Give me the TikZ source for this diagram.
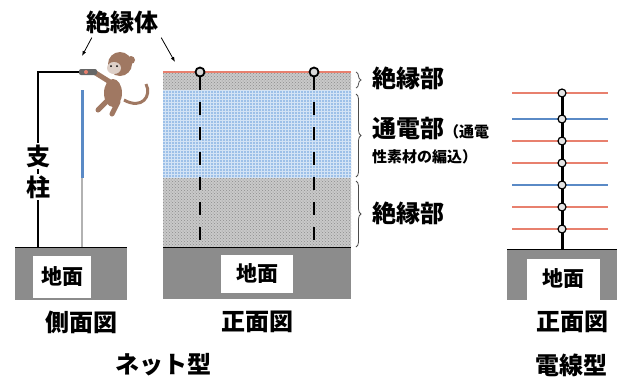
\documentclass[tikz,border=0pt]{standalone}
\usepackage{fontspec}
\setmainfont{Noto Sans CJK JP}
\usetikzlibrary{patterns,decorations.pathreplacing,arrows.meta}
\definecolor{wirered}{HTML}{E8806E}
\definecolor{wireblue}{HTML}{5A8AC6}
\definecolor{netblue}{HTML}{9DC0E8}
\definecolor{netgray}{HTML}{C9C9C9}
\definecolor{earth}{HTML}{8C8C8C}
\definecolor{monkey}{HTML}{A07862}
\tikzset{
  ground/.style={fill=earth,draw=none},
  groundlbl/.style={fill=white,inner sep=0pt,font=\fontsize{21}{21}\selectfont\bfseries},
  lbl/.style={inner sep=0pt,font=\fontsize{24}{24}\selectfont\bfseries},
  small/.style={inner sep=0pt,font=\fontsize{15}{15}\selectfont\bfseries},
  insul/.style={circle,draw,line width=1.8pt,fill=black!15,inner sep=0pt,minimum size=9pt},
  wirepin/.style={circle,draw,line width=1.2pt,fill=black!10,inner sep=0pt,minimum size=8pt},
  post/.style={line width=2.8pt,dash pattern=on 13pt off 12pt},
  brc/.style={decorate,decoration={brace,amplitude=5pt},thick,black!70},
  arr/.style={thick,-{Latex[length=5pt]}}
}
\begin{document}
\begin{tikzpicture}[x=1pt,y=-1pt]
\useasboundingbox (0,0) rectangle (626,378);

% side view
\fill[ground] (15,247) rectangle (127,300);
\draw[thick] (15,247) -- (127,247);
\node[groundlbl,minimum width=58pt,minimum height=42pt] (gl) at (62,277) {地面};
\draw[line width=2pt] (38,247) -- (38,72) -- (80,72);
\node[lbl,fill=white,inner sep=2pt] (shi) at (39,156) {支};
\node[lbl,fill=white,inner sep=2pt] (chu) at (39,187) {柱};
\draw[gray!60,line width=1.2pt] (82,90) -- (82,247);
\draw[wireblue,line width=3pt] (82,90) -- (82,178);
\draw[monkey,line width=3pt] (124,100) .. controls (142,110) and (152,96) .. (146,84);
\fill[monkey] (113,93) ellipse[x radius=9pt,y radius=14pt];
\draw[monkey,line width=5pt,line cap=round] (110,82) -- (94,72);
\draw[monkey,line width=5pt,line cap=round] (108,100) -- (98,110);
\draw[monkey,line width=5pt,line cap=round] (118,102) -- (112,114);
\fill[black!60,rounded corners=2pt] (79,69) rectangle (97,75);
\fill[wirered] (86,72) circle[radius=2pt];
\fill[monkey] (120,64) circle[radius=12pt];
\fill[monkey!35!white] (114,68) ellipse[x radius=7pt,y radius=6pt];
\fill[monkey] (131,60) circle[radius=4pt];
\fill[black] (111,66) circle[radius=1pt];
\fill[black] (117,66) circle[radius=1pt];
\node[lbl] (side) at (81,322) {側面図};

% net, front view
\fill[netgray] (163,72) rectangle (351,247);
\fill[pattern=crosshatch dots,pattern color=black!45] (163,72) rectangle (351,247);
\fill[netblue] (163,90) rectangle (351,177);
\fill[pattern=grid,pattern color=white!55!netblue] (163,90) rectangle (351,177);
\draw[wirered,line width=1.5pt] (163,72) -- (351,72);
\fill[ground] (163,247) rectangle (351,299);
\draw[thick] (163,247) -- (351,247);
\node[groundlbl,minimum width=72pt,minimum height=38pt] (gf) at (257,274) {地面};
\node[insul] (pa) at (200,72) {};
\node[insul] (pb) at (314,72) {};
\coordinate (pa0) at (200,247);
\coordinate (pb0) at (314,247);
\draw[post] (pa) -- (pa0);
\draw[post] (pb) -- (pb0);
\node[lbl] (front) at (257,322) {正面図};
\node[lbl] (net) at (163,365) {ネット型};

\node[lbl] (ins) at (122,22) {絶縁体};
\coordinate (ia) at (82,56);
\coordinate (ib) at (175,62);
\draw[arr] ([xshift=6pt,yshift=-4pt]ins.south west) -- (ia);
\draw[arr] ([xshift=3pt,yshift=-4pt]ins.south east) -- (ib);

% braces
\coordinate (b1) at (356,72);
\coordinate (b2) at (356,88);
\coordinate (b3) at (356,94);
\coordinate (b4) at (356,177);
\coordinate (b5) at (356,181);
\coordinate (b6) at (356,247);
\draw[brc] (b1) -- (b2);
\draw[brc] (b3) -- (b4);
\draw[brc] (b5) -- (b6);
\node[lbl,anchor=west] (top) at (372,78) {絶縁部};
\node[lbl,anchor=west] (mid) at (372,128) {通電部{\fontsize{15}{15}\selectfont （通電}};
\node[small,anchor=west] (mid2) at (372,157) {性素材の編込）};
\node[lbl,anchor=west] (bot) at (372,213) {絶縁部};

% wire type
\fill[ground] (507,249) rectangle (617,300);
\draw[thick] (507,249) -- (617,249);
\node[groundlbl,minimum width=73pt,minimum height=41pt] (gr) at (563,279) {地面};
\coordinate (wtop) at (562,93);
\coordinate (wbot) at (562,249);
\draw[line width=3pt] (wtop) -- (wbot);
\foreach \y/\c [count=\i] in {93/wirered,119/wireblue,141/wirered,163/wirered,185/wireblue,207/wirered,229/wirered}{
  \coordinate (wl\i) at (512,\y);
  \coordinate (wr\i) at (608,\y);
  \draw[\c,line width=1.5pt] (wl\i) -- (wr\i);
  \node[wirepin] (w\i) at (562,\y) {};
}
\node[lbl] (front2) at (572,322) {正面図};
\node[lbl] (wire) at (571,365) {電線型};
\end{tikzpicture}
\end{document}
